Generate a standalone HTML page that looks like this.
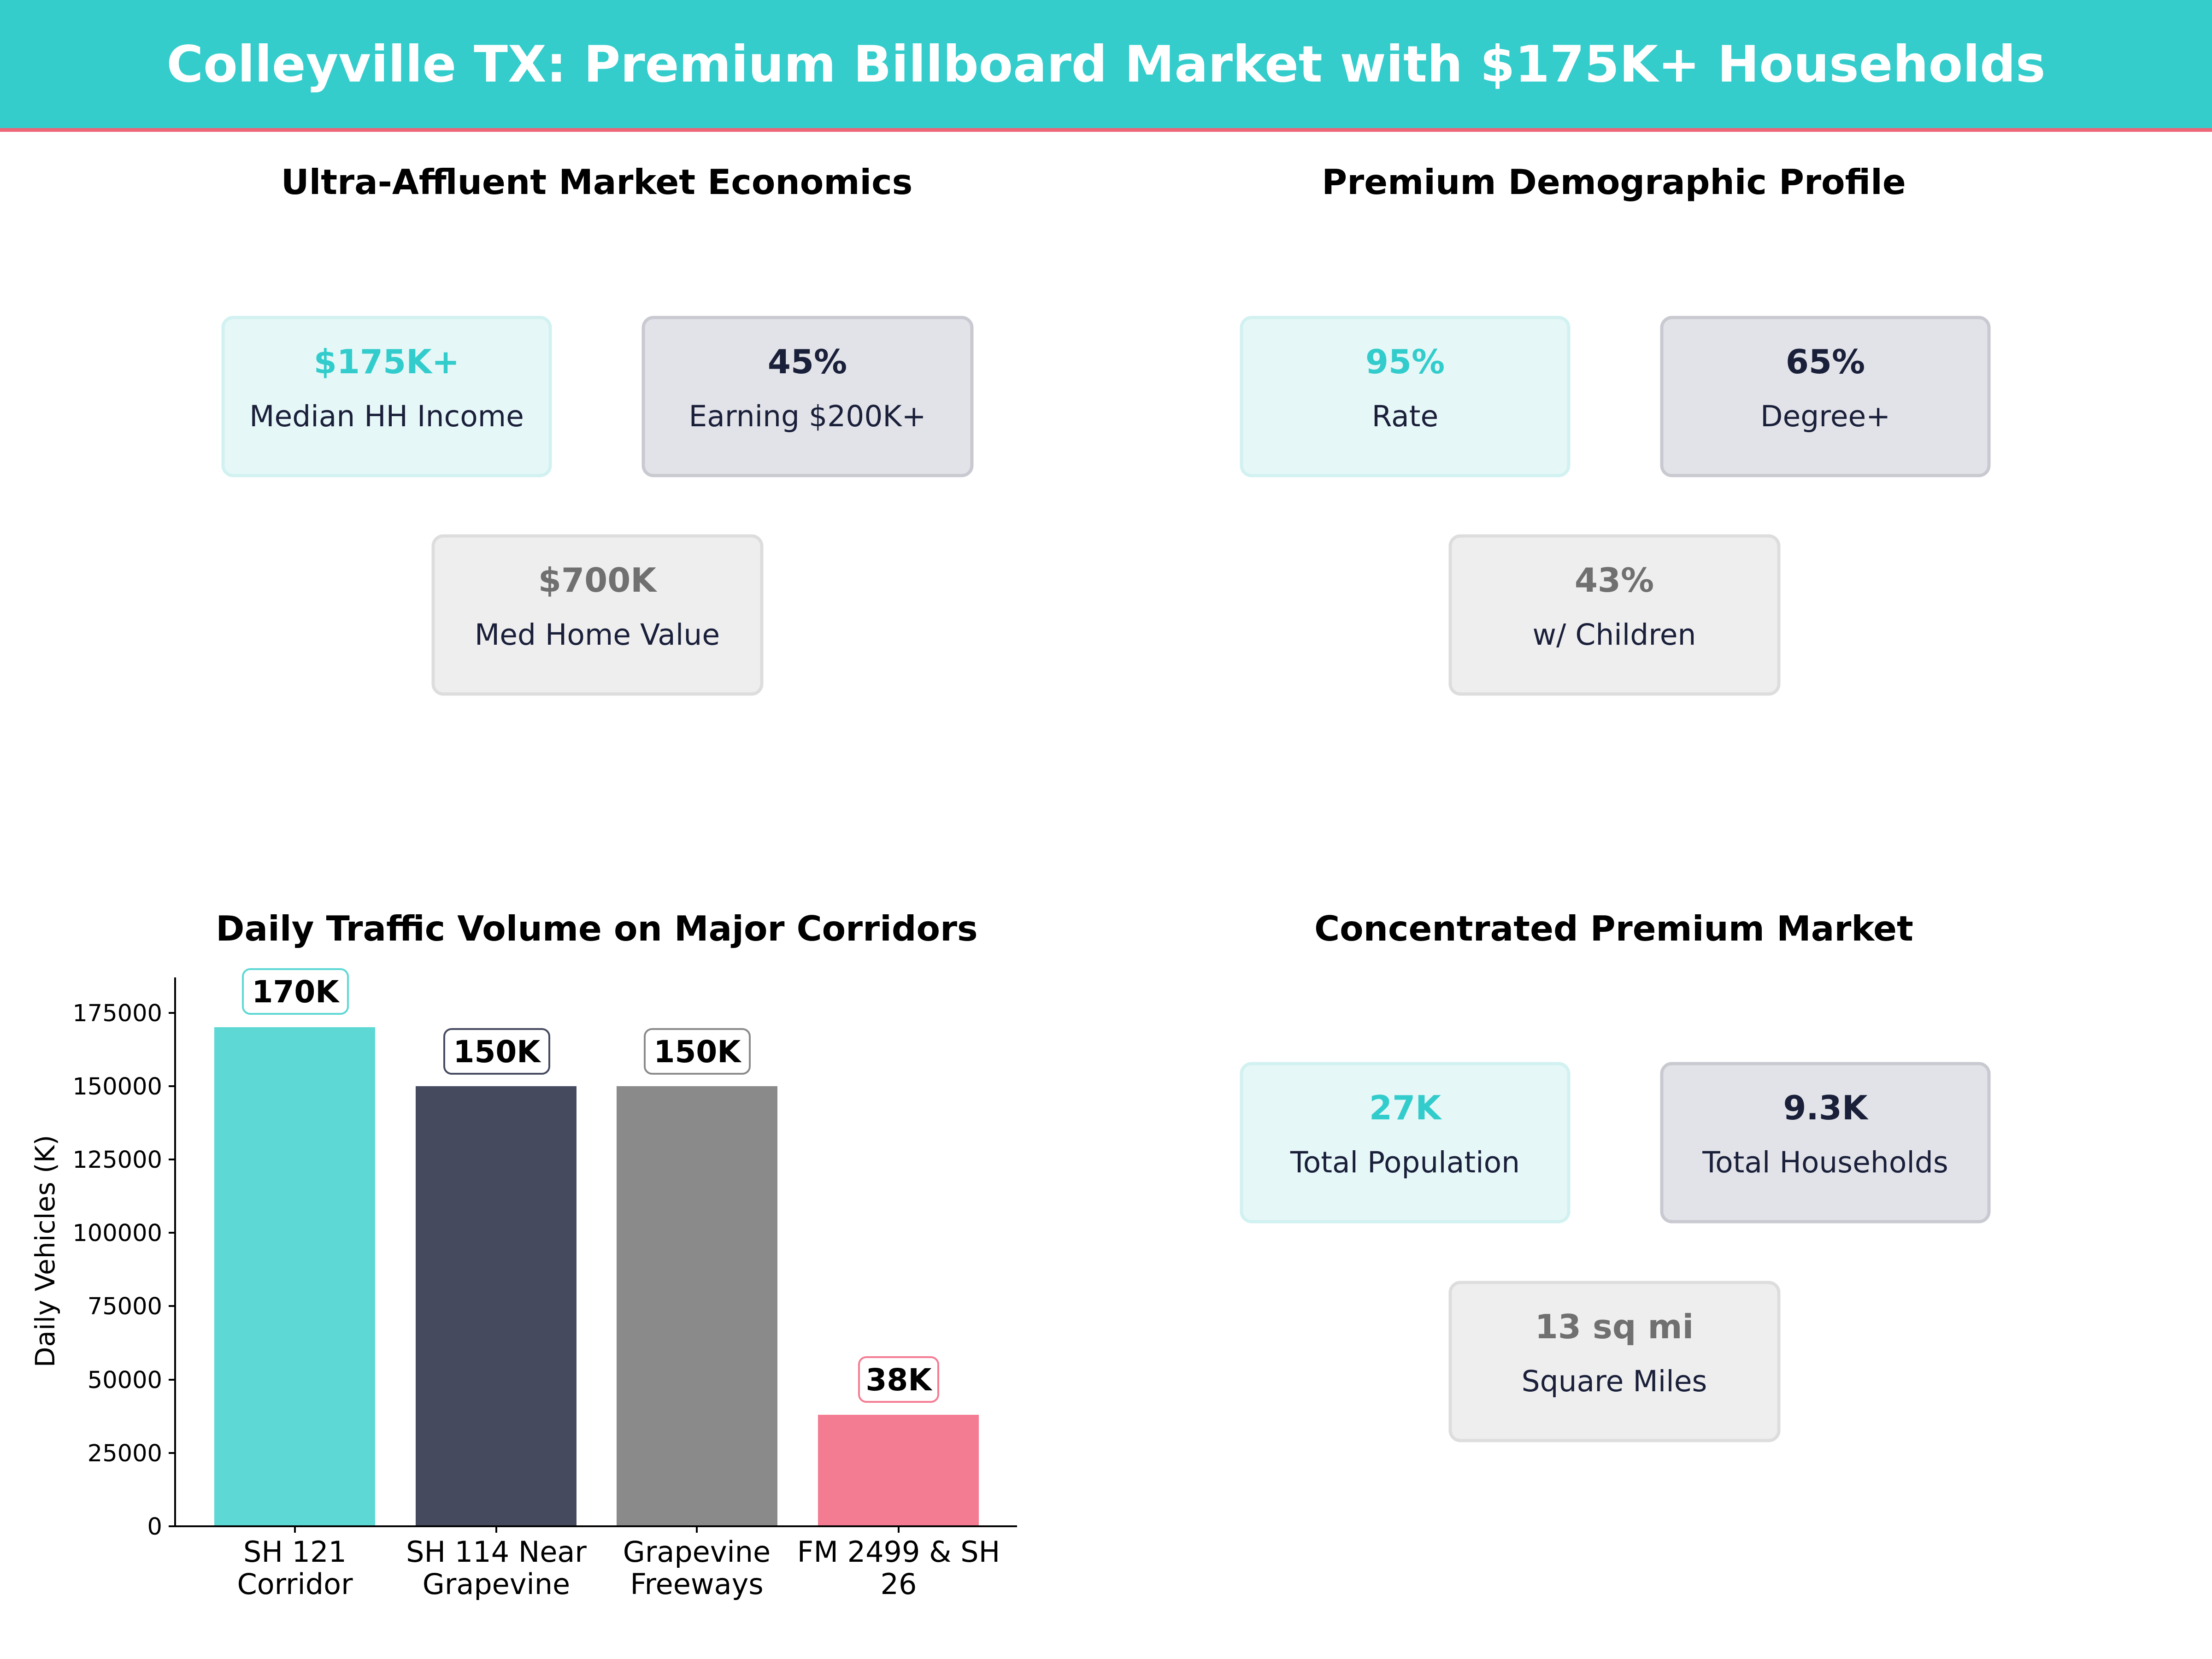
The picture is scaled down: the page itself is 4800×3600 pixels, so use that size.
<!DOCTYPE html>
<html><head><meta charset="utf-8"><style>
html,body{margin:0;padding:0;background:#fff}
svg{display:block}
text{font-family:"DejaVu Sans","Liberation Sans",sans-serif}
</style></head><body>
<svg width="4800" height="3600" viewBox="0 0 4800 3600" xmlns="http://www.w3.org/2000/svg">
<rect x="0" y="0" width="4800" height="282" fill="#35CCCC"/>
<rect x="0" y="278" width="4800" height="8" fill="#EE6677"/>
<text x="2400" y="177" font-size="108.5" font-weight="bold" fill="#fff" text-anchor="middle">Colleyville TX: Premium Billboard Market with $175K+ Households</text>

<g font-size="75" font-weight="bold" fill="#000" text-anchor="middle">
<text x="1295" y="421">Ultra-Affluent Market Economics</text>
<text x="3502" y="421">Premium Demographic Profile</text>
<text x="1295" y="2041">Daily Traffic Volume on Major Corridors</text>
<text x="3502" y="2041">Concentrated Premium Market</text>
</g>

<g stroke-width="7">
<rect x="484" y="689" width="710" height="343" rx="22" fill="#E6F7F7" stroke="#D2F1F1"/>
<rect x="1396" y="689" width="713" height="343" rx="22" fill="#E2E3E8" stroke="#C9CAD1"/>
<rect x="940" y="1163" width="713" height="343" rx="22" fill="#EEEEEE" stroke="#DDDDDD"/>
<rect x="2694" y="689" width="710" height="343" rx="22" fill="#E6F7F7" stroke="#D2F1F1"/>
<rect x="3606" y="689" width="710" height="343" rx="22" fill="#E2E3E8" stroke="#C9CAD1"/>
<rect x="3147" y="1163" width="713" height="343" rx="22" fill="#EEEEEE" stroke="#DDDDDD"/>
<rect x="2694" y="2308" width="710" height="343" rx="22" fill="#E6F7F7" stroke="#D2F1F1"/>
<rect x="3606" y="2308" width="710" height="343" rx="22" fill="#E2E3E8" stroke="#C9CAD1"/>
<rect x="3147" y="2783" width="713" height="343" rx="22" fill="#EEEEEE" stroke="#DDDDDD"/>
</g>
<g font-size="72" font-weight="bold" text-anchor="middle">
<text x="839" y="810" fill="#33CCCC">$175K+</text>
<text x="1752" y="810" fill="#1A1F3A">45%</text>
<text x="1296" y="1284" fill="#707070">$700K</text>
<text x="3049" y="810" fill="#33CCCC">95%</text>
<text x="3961" y="810" fill="#1A1F3A">65%</text>
<text x="3503" y="1284" fill="#707070">43%</text>
<text x="3049" y="2429" fill="#33CCCC">27K</text>
<text x="3961" y="2429" fill="#1A1F3A">9.3K</text>
<text x="3503" y="2904" fill="#707070">13 sq mi</text>
</g>
<g font-size="63" fill="#1A1F3A" text-anchor="middle">
<text x="839" y="925">Median HH Income</text>
<text x="1752" y="925">Earning $200K+</text>
<text x="1296" y="1399">Med Home Value</text>
<text x="3049" y="925">Rate</text>
<text x="3961" y="925">Degree+</text>
<text x="3503" y="1399">w/ Children</text>
<text x="3049" y="2544">Total Population</text>
<text x="3961" y="2544">Total Households</text>
<text x="3503" y="3019">Square Miles</text>
</g>

<rect x="465" y="2229" width="349" height="1083" fill="#5DD8D4"/>
<rect x="902" y="2357" width="349" height="955" fill="#464A5F"/>
<rect x="1338" y="2357" width="349" height="955" fill="#8A8A8A"/>
<rect x="1775" y="3070" width="349" height="242" fill="#F47C92"/>
<g stroke="#000" stroke-width="4" fill="none">
<line x1="380" y1="2121" x2="380" y2="3314"/>
<line x1="378" y1="3312" x2="2207" y2="3312"/>
<line x1="380" y1="3312" x2="366" y2="3312"/>
<line x1="380" y1="3153" x2="366" y2="3153"/>
<line x1="380" y1="2994" x2="366" y2="2994"/>
<line x1="380" y1="2834" x2="366" y2="2834"/>
<line x1="380" y1="2675" x2="366" y2="2675"/>
<line x1="380" y1="2516" x2="366" y2="2516"/>
<line x1="380" y1="2357" x2="366" y2="2357"/>
<line x1="380" y1="2198" x2="366" y2="2198"/>
<line x1="640" y1="3312" x2="640" y2="3326"/>
<line x1="1077" y1="3312" x2="1077" y2="3326"/>
<line x1="1512" y1="3312" x2="1512" y2="3326"/>
<line x1="1950" y1="3312" x2="1950" y2="3326"/>
</g>
<g font-size="51" fill="#000" text-anchor="end">
<text x="352" y="3330">0</text>
<text x="352" y="3171">25000</text>
<text x="352" y="3012">50000</text>
<text x="352" y="2852">75000</text>
<text x="352" y="2693">100000</text>
<text x="352" y="2534">125000</text>
<text x="352" y="2375">150000</text>
<text x="352" y="2216">175000</text>
</g>
<text transform="translate(118,2715) rotate(-90)" font-size="58" fill="#000" text-anchor="middle">Daily Vehicles (K)</text>
<g font-size="62" fill="#000" text-anchor="middle">
<text x="640" y="3389">SH 121</text><text x="640" y="3459">Corridor</text>
<text x="1077" y="3389">SH 114 Near</text><text x="1077" y="3459">Grapevine</text>
<text x="1512" y="3389">Grapevine</text><text x="1512" y="3459">Freeways</text>
<text x="1950" y="3389">FM 2499 &amp; SH</text><text x="1950" y="3459">26</text>
</g>
<g stroke-width="4" fill="#fff">
<rect x="527" y="2103" width="228" height="97" rx="16" stroke="#5DD8D4"/>
<rect x="964" y="2233" width="228" height="97" rx="16" stroke="#464A5F"/>
<rect x="1399" y="2233" width="228" height="97" rx="16" stroke="#8A8A8A"/>
<rect x="1864" y="2945" width="172" height="97" rx="16" stroke="#F47C92"/>
</g>
<g font-size="66" font-weight="bold" fill="#000" text-anchor="middle">
<text x="641" y="2175">170K</text>
<text x="1078" y="2305">150K</text>
<text x="1513" y="2305">150K</text>
<text x="1950" y="3017">38K</text>
</g>
</svg>
</body></html>
